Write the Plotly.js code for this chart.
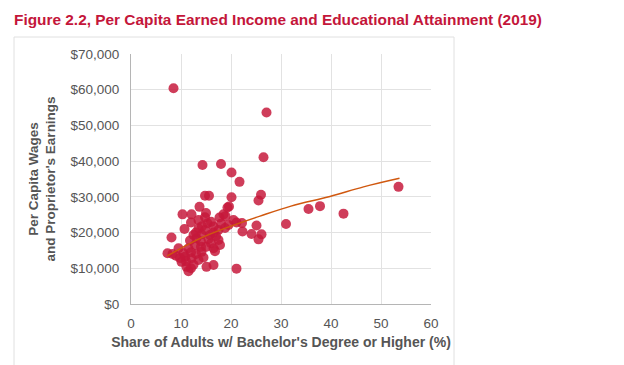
<!DOCTYPE html>
<html>
<head>
<meta charset="utf-8">
<script src="https://cdn.plot.ly/plotly-3.0.1.min.js"></script>
<style>html,body{margin:0;padding:0;background:#fff;}#chart{width:624px;height:365px;}</style>
</head>
<body>
<div id="chart"></div>
<script>
// Share of adults with bachelor's degree or higher (%)
const bachelorShare = [
  8.5, 27.1, 26.5, 14.3, 18.0, 20.1, 21.7, 14.8, 15.6, 20.1,
  26.0, 25.5, 13.7, 19.6, 35.5, 37.8, 42.5, 53.5, 31.0, 25.1,
  26.1, 25.5, 24.1, 22.3, 21.1, 22.2, 21.1, 10.3, 12.1, 14.8,
  17.7, 18.5, 18.9, 12.0, 15.3, 16.5, 19.5, 10.7, 13.5, 14.8,
  17.5, 12.5, 14.1, 15.8, 8.1, 13.1, 17.5, 7.3, 9.5, 11.5,
  12.8, 14.1, 16.5, 17.8, 10.8, 12.1, 13.5, 10.1, 11.1, 11.5,
  15.1, 16.5, 18.8, 10.5, 9.0, 8.3, 12.0, 14.0, 15.0, 16.0,
  13.0, 14.5, 11.8, 13.5, 16.0, 17.0, 15.5, 12.5, 11.0, 9.8,
  16.8, 14.2, 20.5, 18.0, 13.0, 16.5, 14.0, 12.0, 19.3, 15.0
];
// Per capita wages and proprietor's earnings ($)
const perCapitaEarnings = [
  60400, 53600, 41100, 38900, 39200, 36800, 34200, 30300, 30300, 29900,
  30600, 29000, 27200, 27300, 26600, 27400, 25300, 32800, 22400, 22000,
  19500, 18100, 19600, 20300, 22800, 22700, 9900, 25100, 25100, 24300,
  24200, 25100, 24600, 22800, 22600, 21700, 22100, 21000, 21200, 20700,
  20700, 19300, 19500, 19300, 18600, 18400, 17900, 14200, 15600, 15600,
  16500, 14600, 15600, 16500, 13200, 12800, 12300, 11800, 10400, 9200,
  10400, 10900, 21300, 14200, 13500, 14000, 10000, 17500, 16000, 17000,
  14000, 13000, 17800, 23500, 23000, 19000, 18200, 11000, 12000, 12900,
  14800, 21800, 23500, 22500, 20000, 20000, 16000, 14500, 27000, 25500
];
// Trendline
const trendShare = [7.2, 10.5, 14.5, 19.8, 25.8, 32.0, 39.8, 46.5, 53.7];
const trendEarnings = [13400, 16000, 18800, 21700, 24600, 27400, 30100, 32800, 35200];

const xTickVals = [0, 10, 20, 30, 40, 50, 60];
const yTickVals = [0, 10000, 20000, 30000, 40000, 50000, 60000, 70000];
const yTickText = ['$0', '$10,000', '$20,000', '$30,000', '$40,000', '$50,000', '$60,000', '$70,000'];

const font = 'Arial, "Liberation Sans", sans-serif';
const data = [
  {x: bachelorShare, y: perCapitaEarnings, type: 'scatter', mode: 'markers',
   marker: {color: 'rgba(198,24,58,0.84)', size: 10, line: {width: 0}}, hoverinfo: 'x+y'},
  {x: trendShare, y: trendEarnings, type: 'scatter', mode: 'lines',
   line: {color: '#d0580f', width: 1.5, shape: 'spline', smoothing: 1}, hoverinfo: 'skip'}
];
const layout = {
  width: 624, height: 365,
  margin: {l: 131, r: 193, t: 54, b: 61},
  paper_bgcolor: '#fff', plot_bgcolor: '#fff',
  showlegend: false,
  font: {family: font, color: '#555', size: 13.5},
  title: {text: '<b>Figure 2.2, Per Capita Earned Income and Educational Attainment (2019)</b>',
          font: {family: font, size: 15.4, color: '#c4163a'}, x: 14/624, xanchor: 'left', xref: 'container',
          y: 1 - 20/365, yanchor: 'middle', yref: 'container'},
  xaxis: {range: [0, 60], tickvals: xTickVals, showgrid: true, gridcolor: '#e2e2e2', gridwidth: 1,
          zeroline: false, showline: true, linecolor: '#b5b5b5', linewidth: 1, ticks: '',
          ticklabelstandoff: 7, tickfont: {size: 13.5, color: '#555'},
          title: {text: "<b>Share of Adults w/ Bachelor's Degree or Higher (%)</b>", font: {size: 14, color: '#555'}, standoff: 6}},
  yaxis: {range: [0, 70000], tickvals: yTickVals, ticktext: yTickText, showgrid: true,
          gridcolor: '#e2e2e2', gridwidth: 1, zeroline: false, showline: true, linecolor: '#b5b5b5',
          linewidth: 1, ticks: '', ticklabelstandoff: 8, tickfont: {size: 13.5, color: '#555'},
          title: {text: "<b>Per Capita Wages<br>and Proprietor's Earnings</b>", font: {size: 13.5, color: '#555'}, standoff: 11}},
  shapes: [
    {type: 'line', xref: 'paper', yref: 'paper', x0: (14-131)/300, x1: (454-131)/300, y0: (304-37)/250, y1: (304-37)/250, line: {color: '#e0e0e0', width: 1}},
    {type: 'line', xref: 'paper', yref: 'paper', x0: (14-131)/300, x1: (14-131)/300, y0: (304-37)/250, y1: (304-370)/250, line: {color: '#e0e0e0', width: 1}},
    {type: 'line', xref: 'paper', yref: 'paper', x0: (454-131)/300, x1: (454-131)/300, y0: (304-37)/250, y1: (304-370)/250, line: {color: '#e0e0e0', width: 1}}
  ]
};
Plotly.newPlot('chart', data, layout, {displayModeBar: false, staticPlot: true});
</script>
</body>
</html>
